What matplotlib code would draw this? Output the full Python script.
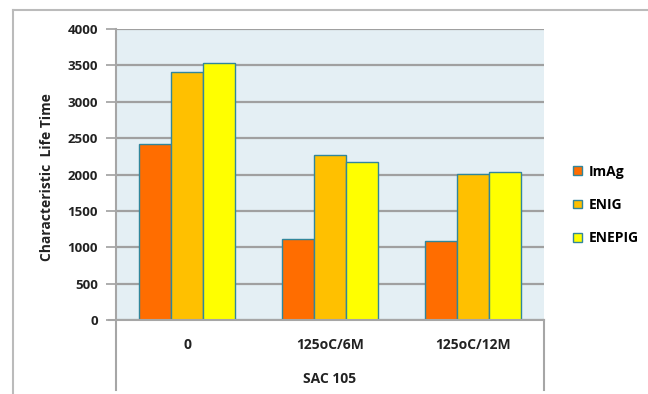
import matplotlib
matplotlib.use("Agg")
import matplotlib.pyplot as plt
from matplotlib.lines import Line2D
from matplotlib.patches import Patch
import numpy as np

categories = ["0", "125oC/6M", "125oC/12M"]
series_names = ["ImAg", "ENIG", "ENEPIG"]
imag = [2415, 1115, 1080]
enig = [3415, 2265, 2005]
enepig = [3530, 2170, 2040]
group_label = "SAC 105"
yticks = [0, 500, 1000, 1500, 2000, 2500, 3000, 3500, 4000]
colors = ["#FF6D00", "#FFC000", "#FFFF00"]
edge = "#31869B"

plt.rcParams['font.family'] = ['Open Sans', 'DejaVu Sans']

W, H = 648, 394
fig = plt.figure(figsize=(W / 100, H / 100), dpi=100)
fig.patch.set_facecolor("white")

L, R, T, B = 116, 544, 29, 320
ax = fig.add_axes([L / W, 1 - B / H, (R - L) / W, (B - T) / H])
ax.set_facecolor("#E4EFF4")

x = np.arange(len(categories))
bw = 0.224
for i, (vals, c) in enumerate(zip([imag, enig, enepig], colors)):
    ax.bar(x + (i - 1) * bw, vals, width=bw, color=c, edgecolor=edge, linewidth=1.0, zorder=3)

ax.set_xlim(-0.5, 2.5)
ax.set_ylim(0, 4000)
ax.set_yticks(yticks)
ax.set_yticklabels([str(v) for v in yticks], fontsize=9.5, fontweight="bold", color="#222222")
ax.yaxis.grid(True, color="#A0A0A0", linewidth=1.6, zorder=1)
ax.set_axisbelow(True)
ax.tick_params(axis="y", length=7, width=1.2, color="#A0A0A0", pad=6)
ax.set_xticks([])
for s in ["top", "right", "bottom", "left"]:
    ax.spines[s].set_visible(False)

def fx(px):
    return px / W

def fy(py):
    return 1 - py / H

lc = "#A6A6A6"
fig.add_artist(Line2D([fx(109), fx(R)], [fy(B), fy(B)], color=lc, lw=1.5))
fig.add_artist(Line2D([fx(L), fx(L)], [fy(T), fy(390)], color=lc, lw=1.5))
fig.add_artist(Line2D([fx(R), fx(R)], [fy(B), fy(390)], color=lc, lw=1.5))
fig.add_artist(Line2D([fx(13), fx(13)], [fy(10), fy(394)], color="#BBBBBB", lw=1.5))
fig.add_artist(Line2D([fx(13), fx(648)], [fy(10), fy(10)], color="#BBBBBB", lw=1.5))

for xi, lab in zip(x, categories):
    ax.text(xi, -0.085, lab, transform=ax.get_xaxis_transform(), ha="center", va="center",
            fontsize=10, fontweight="bold", color="#222222")
fig.text(fx(330), fy(379), group_label, ha="center", va="center", fontsize=10,
         fontweight="bold", color="#222222")

fig.text(fx(47), fy(177), "Characteristic  Life Time", rotation=90, ha="center", va="center",
         fontsize=10, fontweight="bold", color="#222222")

handles = [Patch(facecolor=c, edgecolor=edge, linewidth=1.0) for c in colors]
fig.legend(handles, series_names, loc="center left", bbox_to_anchor=(fx(560), fy(205)),
           frameon=False, prop={"weight": "bold", "size": 10},
           handlelength=0.65, handleheight=0.55, handletextpad=0.5, labelspacing=1.4)

fig.savefig("out.png", dpi=100, facecolor="white")
